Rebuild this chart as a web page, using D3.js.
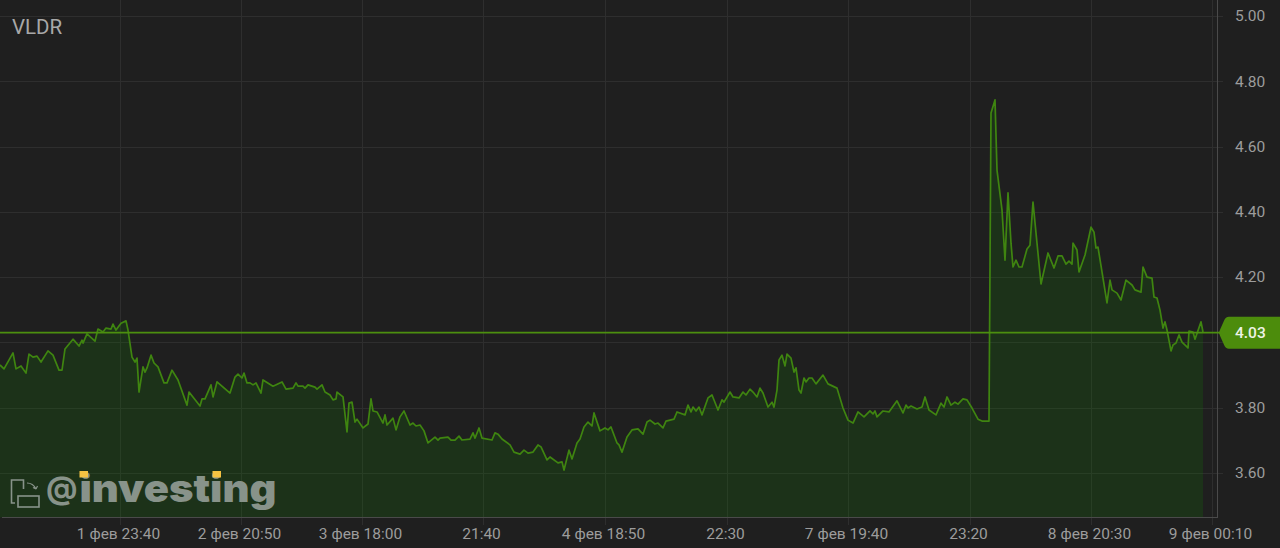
<!DOCTYPE html>
<html><head><meta charset="utf-8">
<script src="https://cdn.jsdelivr.net/npm/d3@7"></script>
<style>
html,body{margin:0;padding:0;background:#1f1f1f;overflow:hidden}
svg{display:block;font-family:Roboto,sans-serif}
</style></head><body>
<svg id="c" width="1280" height="548"></svg>
<script>
const symbol = "VLDR";
const lastPrice = 4.03;
const priceTicks = [3.6,3.8,4.0,4.2,4.4,4.6,4.8,5.0];
const priceTickLabels = ["3.60","3.80","","4.20","4.40","4.60","4.80","5.00"];
const timeTickSlots = [60,120.5,181,241.5,302.5,363.5,424,485,545.5,606];
const timeTickLabels = ["1 фев 23:40","2 фев 20:50","3 фев 18:00","21:40","4 фев 18:50","22:30","7 фев 19:40","23:20","8 фев 20:30","9 фев 00:10"];
const slots = [0,2,6.5,8,10.5,13,14.5,16.5,18.5,20.5,24,26.5,29.5,31,32.5,36.5,39.5,41,41.5,43.5,47.5,49,51.5,53,55.5,56.5,58,60.5,63,64,66,67.5,68.5,69.5,71.5,72.5,73.5,75.5,77,79,82,83.5,86,89,93.5,94.5,100,101,102.5,105.5,106.5,108.5,115,117.5,119,121,122,123.5,125,126.5,128,130.5,131.5,136.5,141,143,146.5,148,149,151.5,152.5,154,157.5,158.5,161,162.5,165,166.5,168,168.5,171.5,173.5,174.5,176,177.5,178.5,181.5,184,185.5,186.5,188.5,191.5,192.5,193.5,196.5,198,200,202,205,206.5,208,210,212,214,217.5,219,220,224,225.5,227.5,229.5,231,235,236.5,237.5,239.5,241,246,247.5,249,251,255,257,260,262,264,266.5,269,270.5,273.5,275,279,281,282,284.5,286,288.5,290,292,294,296,297,300,302.5,304,305.5,308.5,309.5,311,313.5,316,319,321.5,323.5,325,327.5,329,331.5,333,337,338.5,342.5,344,345.5,346.5,348,349.5,351,354,356,359,361,362,365,366.5,369.5,371.5,373,375,376.5,378.5,380,381.5,384,386,387,388.5,389.5,391,392.5,393.5,395.5,397,398,399.5,400.5,402,403,404.5,406,408,411.5,414,418.5,421.5,424,426.5,429,432,435,436.5,437.5,438.5,441.5,444.5,448.5,451.5,453,454,455.5,458.5,461,462.5,464.5,468,470.5,472,473.5,475.5,477.5,479,481.5,483.5,486,489,491,494,494.5,495.5,497.5,498.5,501,502.5,504,505.5,506.5,508,509.5,511,513.5,515,516.5,520.5,524,527,529,531,533,534.5,536,536.5,538.5,539.5,542.5,545.5,547,548,549,553.5,555,556,558.5,560.5,563,566,567.5,570.5,571.5,573.5,576,577,578.5,580,581.5,582.5,583.5,585.5,586.5,588,589.5,591,594,594.5,596.5,597.5,600.5,601.5];
const prices = [3.931,3.919,3.968,3.919,3.928,3.906,3.964,3.955,3.958,3.940,3.974,3.961,3.915,3.915,3.980,4.010,3.989,4.007,3.998,4.026,4.004,4.041,4.032,4.044,4.041,4.056,4.038,4.059,4.066,4.038,3.955,3.940,3.952,3.848,3.925,3.909,3.922,3.961,3.937,3.925,3.876,3.876,3.915,3.885,3.808,3.848,3.805,3.827,3.827,3.870,3.833,3.879,3.845,3.894,3.903,3.891,3.906,3.876,3.876,3.870,3.876,3.845,3.885,3.866,3.879,3.857,3.860,3.876,3.866,3.866,3.860,3.870,3.863,3.857,3.870,3.848,3.839,3.824,3.827,3.848,3.833,3.726,3.814,3.817,3.756,3.765,3.738,3.750,3.827,3.790,3.787,3.753,3.778,3.747,3.768,3.732,3.772,3.790,3.747,3.753,3.744,3.747,3.729,3.692,3.710,3.701,3.707,3.710,3.701,3.701,3.713,3.701,3.704,3.723,3.707,3.738,3.707,3.701,3.723,3.719,3.704,3.686,3.664,3.658,3.670,3.661,3.664,3.686,3.680,3.640,3.649,3.631,3.634,3.609,3.670,3.643,3.692,3.704,3.741,3.756,3.744,3.784,3.729,3.738,3.732,3.741,3.692,3.686,3.664,3.710,3.732,3.735,3.719,3.756,3.762,3.750,3.753,3.738,3.759,3.765,3.787,3.778,3.808,3.787,3.802,3.790,3.802,3.778,3.830,3.839,3.793,3.824,3.817,3.848,3.833,3.830,3.848,3.839,3.857,3.848,3.833,3.860,3.845,3.802,3.817,3.802,3.854,3.946,3.961,3.928,3.964,3.952,3.909,3.922,3.854,3.845,3.891,3.879,3.891,3.891,3.873,3.900,3.873,3.860,3.799,3.762,3.753,3.787,3.772,3.790,3.781,3.790,3.772,3.790,3.787,3.821,3.784,3.808,3.799,3.805,3.796,3.802,3.833,3.793,3.778,3.814,3.802,3.833,3.808,3.817,3.811,3.827,3.824,3.799,3.765,3.759,3.759,3.759,4.703,4.743,4.528,4.406,4.252,4.458,4.304,4.231,4.252,4.231,4.231,4.286,4.298,4.430,4.179,4.274,4.228,4.265,4.265,4.240,4.249,4.240,4.304,4.283,4.216,4.268,4.353,4.338,4.289,4.292,4.121,4.191,4.161,4.151,4.130,4.191,4.176,4.161,4.154,4.231,4.200,4.197,4.139,4.136,4.099,4.044,4.063,4.038,3.974,3.992,3.998,4.023,4.001,3.983,4.035,4.032,4.010,4.063,4.032];

const W=1280,H=548,baseY=517.5,axisX=1217,gridR=1223;
const svg=d3.select("#c");
const x=d3.scaleLinear().domain([0,640]).range([0,W]);
const y=d3.scaleLinear().domain([3.6,5.0]).range([473,16]);

const gy=svg.append("g").call(d3.axisRight(y).tickValues(priceTicks).tickSize(gridR).tickFormat(""));
gy.select(".domain").remove();
gy.selectAll("line").attr("stroke","#2e2e2e").attr("stroke-width",1).attr("shape-rendering","crispEdges");

const gx=svg.append("g").attr("transform","translate(0,525)")
  .call(d3.axisTop(x).tickValues(timeTickSlots).tickSize(525).tickPadding(0).tickFormat(""));
gx.select(".domain").remove();
gx.selectAll("line").attr("stroke","#2e2e2e").attr("stroke-width",1).attr("shape-rendering","crispEdges");

const pts=slots.map((s,i)=>[s,prices[i]]);
svg.append("path").datum(pts)
  .attr("d",d3.area().x(d=>x(d[0])).y0(baseY).y1(d=>y(d[1])))
  .attr("fill","rgb(21,131,6)").attr("fill-opacity",0.2);

// watermark
const wm=svg.append("g").attr("font-family","Inter,Roboto,sans-serif").attr("font-weight",900).attr("fill","#88938a");
wm.append("text").attr("x",46).attr("y",499).attr("font-size",31).attr("font-weight",700).text("@");
wm.append("text").attr("x",79.5).attr("y",502).attr("font-size",38)
  .attr("textLength",197).attr("lengthAdjust","spacingAndGlyphs").text("investing");
wm.selectAll("rect.dot").data([79.5,212.5]).join("rect").attr("class","dot")
  .attr("x",d=>d).attr("y",471).attr("width",8.5).attr("height",6.5).attr("fill","#f5c242");
const icon=wm.append("g").attr("fill","none").attr("stroke","#88938a").attr("stroke-width",1.6);
icon.append("path").attr("d","M15 503 h-3.5 v-23 h12 v9");
icon.append("rect").attr("x",18).attr("y",496).attr("width",21).attr("height",11);
icon.append("path").attr("d","M27 483 q6 0 9 6 M36 489 l-3 -1.5 M36 489 l1.5 -3").attr("stroke-width",1.2);

// price line
svg.append("path").datum(pts)
  .attr("d",d3.line().x(d=>x(d[0])).y(d=>y(d[1])))
  .attr("fill","none").attr("stroke","#3f8510").attr("stroke-width",1.7).attr("stroke-linejoin","round");

// baseline + right axis
svg.append("line").attr("x1",2).attr("x2",1218).attr("y1",baseY).attr("y2",baseY).attr("stroke","#4a4a4a");
svg.append("line").attr("x1",axisX+.5).attr("x2",axisX+.5).attr("y1",0).attr("y2",518).attr("stroke","#4a4a4a");

// axis labels
const ly=svg.append("g").attr("transform",`translate(1235,-0.5)`)
  .call(d3.axisRight(y).tickValues(priceTicks).tickSize(0).tickPadding(0).tickFormat((d,i)=>priceTickLabels[i]));
ly.select(".domain").remove();
ly.selectAll("text").attr("font-family","Roboto,sans-serif").attr("font-size",15.5).attr("fill","#9c9c9c").attr("dy","0.34em");

const lx=svg.append("g").attr("transform",`translate(0,528)`)
  .call(d3.axisBottom(x).tickValues(timeTickSlots).tickSize(0).tickPadding(0).tickFormat((d,i)=>timeTickLabels[i]));
lx.select(".domain").remove();
lx.selectAll("text").attr("font-family","Roboto,sans-serif").attr("font-size",15.5).attr("fill","#9c9c9c");
lx.selectAll("g.tick").attr("transform",d=>`translate(${x(d)-1.5},0)`);

svg.append("text").attr("x",12).attr("y",33.5).attr("font-size",20.5).attr("fill","#a8a8a8").text(symbol);

// last price line + tag
const ly0=y(lastPrice);
svg.append("line").attr("x1",0).attr("x2",1221).attr("y1",ly0).attr("y2",ly0).attr("stroke","#4c8f0f").attr("stroke-width",1.7);
svg.append("path").attr("fill","#4c8c0c")
  .attr("d",`M1218.5 ${ly0} q1 -1 1.5 -3 l4 -9 q1.5 -4 5 -4 H1280 V${ly0+16} H1229 q-3.5 0 -5 -4 l-4 -9 q-.5 -2 -1.5 -3 Z`);
svg.append("text").attr("x",1235).attr("y",ly0).attr("dy","0.35em").attr("font-size",15.5).attr("font-weight",500).attr("fill","#eef3e6").text(d3.format(".2f")(lastPrice));
</script></body></html>
